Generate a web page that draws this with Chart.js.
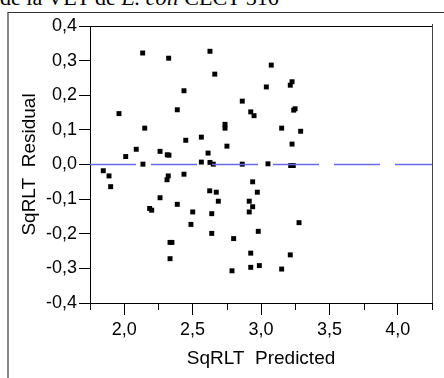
<!DOCTYPE html>
<html>
<head>
<meta charset="utf-8">
<script src="https://cdn.jsdelivr.net/npm/chart.js@4.4.0/dist/chart.umd.min.js"></script>
<style>
  html, body { margin: 0; padding: 0; background: #fff; overflow: hidden; }
  #wrap { position: relative; width: 444px; height: 378px; }
  #title { position: absolute; left: 0; top: -13px; font-family: 'Liberation Serif', 'Times New Roman', serif; font-size: 22px; line-height: 1; white-space: nowrap; color: #000; }
  #frame { position: absolute; left: 7px; top: 12px; width: 437px; height: 366px; border-left: 2px solid #888; border-top: 1px solid #333; box-sizing: border-box; }
  canvas { position: absolute; left: 0; top: 0; }
</style>
</head>
<body>
<div id="wrap">
  <div id="title">de la VET de <i>E. coli</i> CECT 516</div>
  <div id="frame"></div>
  <canvas id="myChart" width="444" height="378"></canvas>
</div>
<script>
// values
const predicted = [2.135, 2.325, 2.627, 2.662, 2.437, 2.863, 1.962, 2.388, 2.925, 2.949,
  2.150, 2.737, 2.737, 2.450, 2.564, 2.751, 2.088, 2.011, 2.262, 2.315,
  2.327, 2.613, 2.137, 2.564, 2.627, 2.651, 2.863, 3.075, 3.039, 3.227,
  3.214, 3.249, 3.239, 3.151, 3.290, 3.227, 3.051, 3.217, 3.236, 1.847,
  1.889, 1.901, 2.322, 2.313, 2.437, 2.262, 2.186, 2.201, 2.388, 2.501,
  2.625, 2.673, 2.688, 2.640, 2.488, 2.640, 2.335, 2.349, 2.335, 2.939,
  2.973, 2.914, 2.939, 2.914, 2.980, 2.800, 2.925, 2.788, 2.925, 2.988,
  3.278, 3.214, 3.151];
const residual = [0.322, 0.307, 0.327, 0.261, 0.213, 0.183, 0.147, 0.158, 0.152, 0.141,
  0.105, 0.116, 0.105, 0.070, 0.079, 0.053, 0.044, 0.023, 0.038, 0.028,
  0.027, 0.033, 0.001, 0.007, 0.006, 0.001, 0.001, 0.287, 0.224, 0.239,
  0.229, 0.161, 0.157, 0.105, 0.096, 0.059, 0.002, -0.003, -0.003, -0.018,
  -0.033, -0.064, -0.033, -0.044, -0.028, -0.096, -0.127, -0.132, -0.115, -0.137,
  -0.076, -0.080, -0.106, -0.142, -0.173, -0.199, -0.225, -0.225, -0.272, -0.050,
  -0.080, -0.106, -0.122, -0.137, -0.193, -0.214, -0.256, -0.307, -0.297, -0.292,
  -0.168, -0.261, -0.302];

const zeroLineX = [1.75, 4.25];
const zeroLineY = [0, 0];

const xMajorTicks = [2.0, 2.5, 3.0, 3.5, 4.0];
const xMinorTicks = [1.75, 2.25, 2.75, 3.25, 3.75, 4.25];
const yTicks = [-0.4, -0.3, -0.2, -0.1, 0.0, 0.1, 0.2, 0.3, 0.4];

const fmt = v => v.toFixed(1).replace('-0.0', '0.0').replace('.', ',');

const frameAndMinor = {
  id: 'frameAndMinor',
  afterDraw(chart) {
    const c = chart.ctx, a = chart.chartArea, xs = chart.scales.x;
    c.save();
    c.lineWidth = 1;
    c.strokeStyle = '#000';
    c.beginPath();
    c.moveTo(a.left, a.top + 0.5); c.lineTo(a.right, a.top + 0.5);
    c.stroke();
    c.strokeStyle = '#444';
    c.beginPath();
    c.moveTo(a.right + 0.5, a.top - 2); c.lineTo(a.right + 0.5, a.bottom);
    c.stroke();
    c.strokeStyle = '#000';
    xMinorTicks.forEach(v => {
      const px = Math.round(xs.getPixelForValue(v)) + 0.5;
      c.beginPath();
      c.moveTo(px, a.bottom); c.lineTo(px, a.bottom + 7);
      c.stroke();
    });
    c.restore();
  }
};

const ctx = document.getElementById('myChart');

new Chart(ctx, {
  type: 'scatter',
  data: {
    datasets: [{
      type: 'line',
      data: zeroLineX.map((x, i) => ({x: x, y: zeroLineY[i]})),
      borderColor: 'rgb(105,105,240)',
      borderWidth: 1.5,
      borderDash: [46, 15],
      pointRadius: 0,
      fill: false
    }, {
      data: predicted.map((x, i) => ({x: x, y: residual[i]})),
      backgroundColor: '#000',
      borderWidth: 0,
      pointStyle: 'rect',
      pointRadius: 3.5,
      pointHoverRadius: 3.5
    }]
  },
  options: {
    responsive: false,
    animation: false,
    events: [],
    layout: { padding: { top: 26, right: 12, left: 0, bottom: 0 }, autoPadding: false },
    plugins: { legend: { display: false }, tooltip: { enabled: false } },
    scales: {
      x: {
        type: 'linear',
        min: 1.75,
        max: 4.25,
        afterBuildTicks: s => { s.ticks = xMajorTicks.map(v => ({value: v})); },
        afterFit: s => { s.height = 75; },
        grid: { drawOnChartArea: false, tickLength: 12, color: '#000' },
        border: { display: true, color: '#000', width: 1 },
        ticks: { color: '#000', padding: 4, maxRotation: 0, font: { family: 'Liberation Sans', size: 18 }, callback: v => fmt(v) },
        title: { display: true, text: 'SqRLT  Predicted', color: '#000', padding: { top: 0, bottom: 8 }, font: { family: 'Liberation Sans', size: 19 } }
      },
      y: {
        min: -0.4,
        max: 0.4,
        afterBuildTicks: s => { s.ticks = yTicks.map(v => ({value: v})); },
        afterFit: s => { s.width = 90; },
        grid: { drawOnChartArea: false, tickLength: 11, color: '#000' },
        border: { display: true, color: '#000', width: 1 },
        ticks: { color: '#000', padding: 2, font: { family: 'Liberation Sans', size: 18 }, callback: v => fmt(v) },
        title: { display: true, text: 'SqRLT  Residual', color: '#000', padding: { top: 18, bottom: 0 }, font: { family: 'Liberation Sans', size: 19 } }
      }
    }
  },
  plugins: [frameAndMinor]
});
</script>
</body>
</html>
